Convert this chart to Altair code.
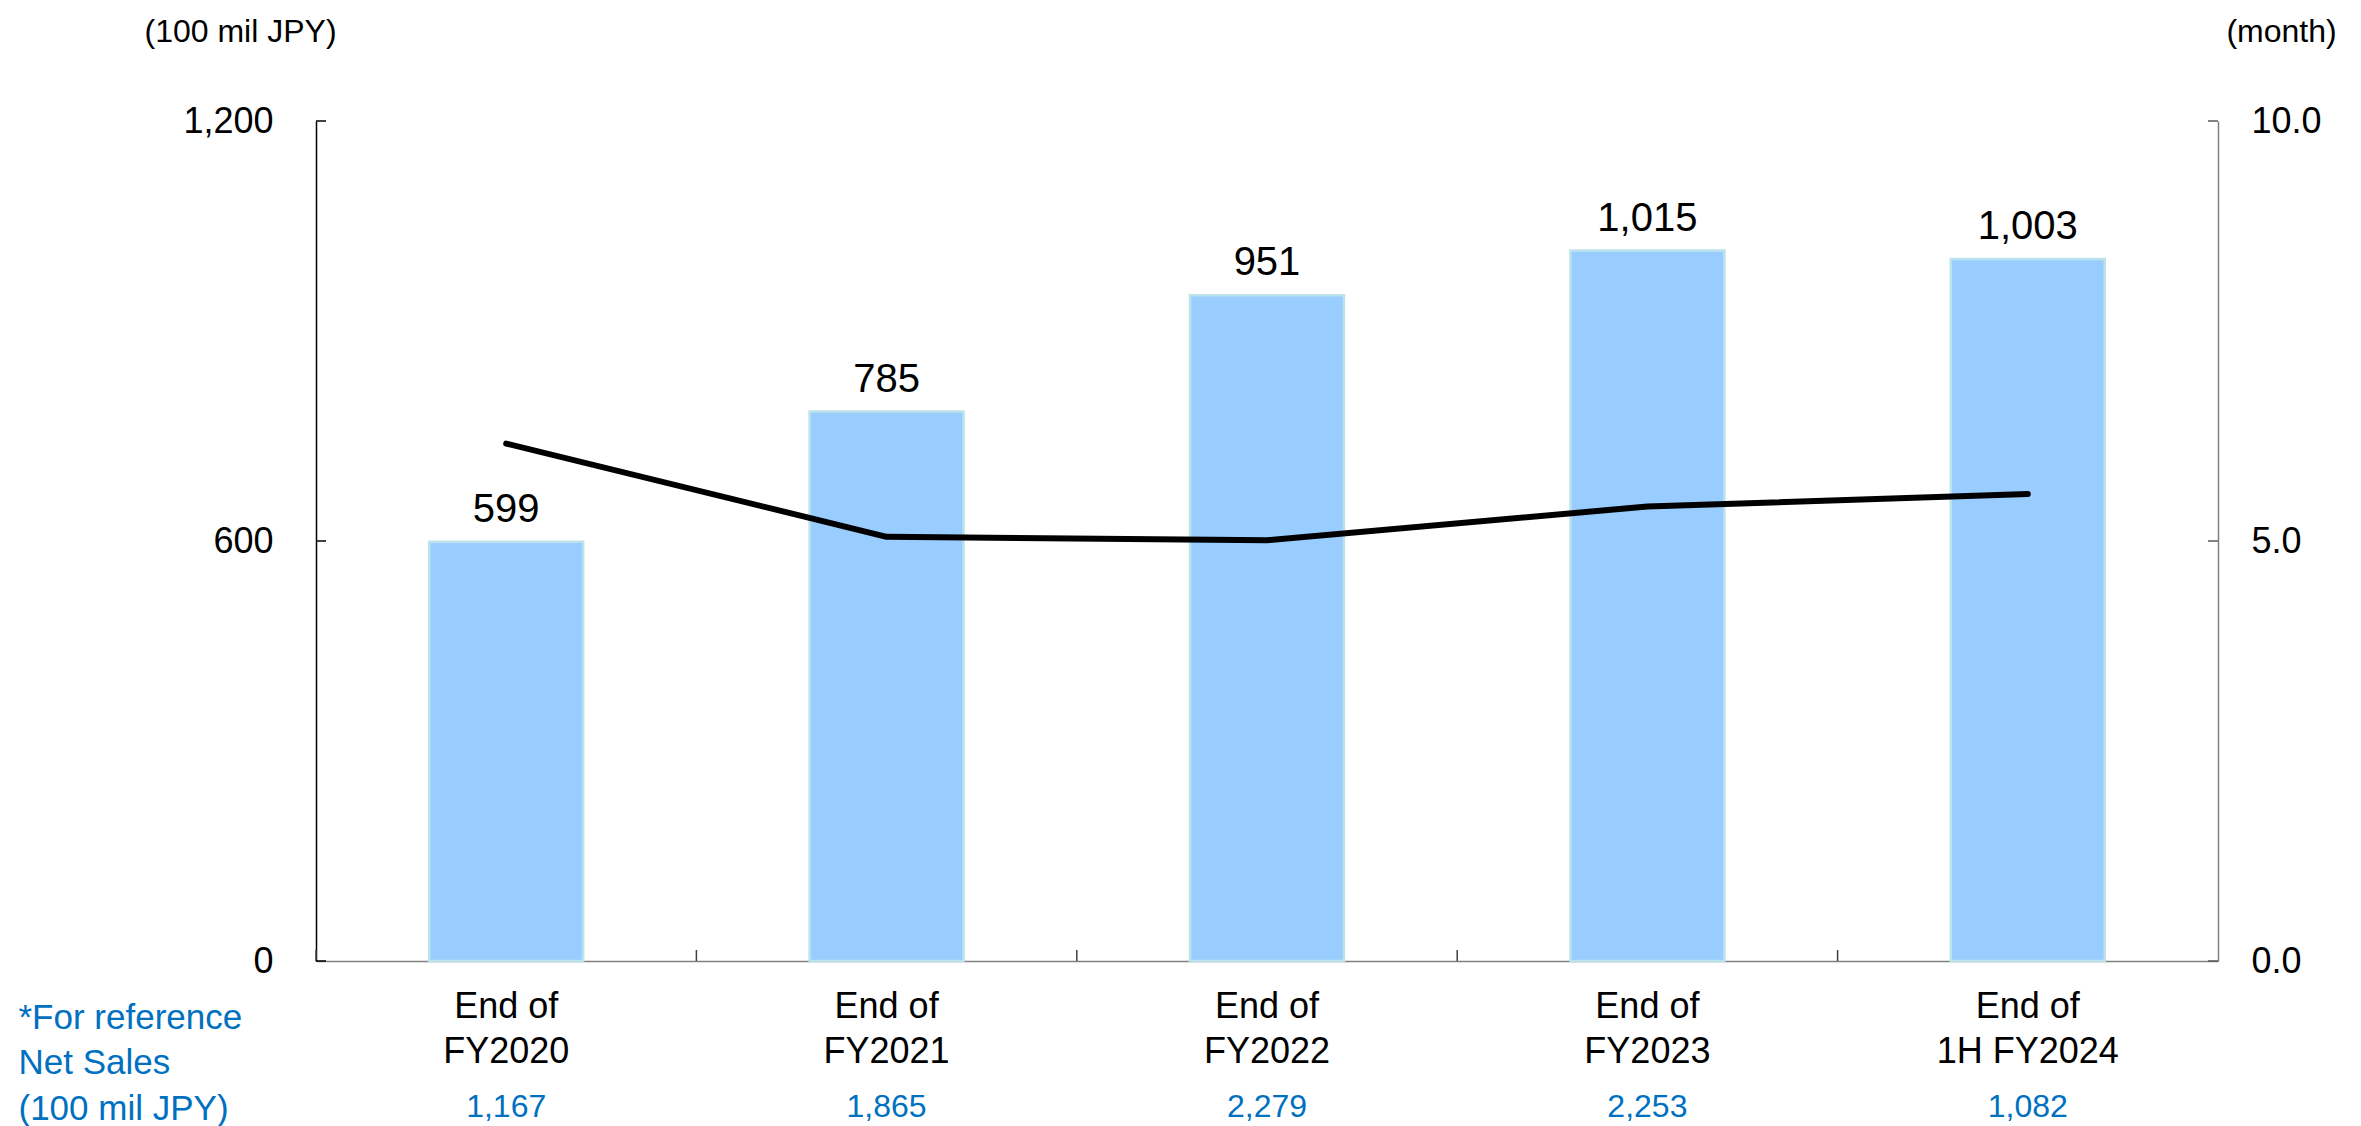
import altair as alt
import pandas as pd

categories = ["End of FY2020", "End of FY2021", "End of FY2022", "End of FY2023", "End of 1H FY2024"]
label_line1 = ["End of", "End of", "End of", "End of", "End of"]
label_line2 = ["FY2020", "FY2021", "FY2022", "FY2023", "1H FY2024"]
inventory = [599, 785, 951, 1015, 1003]
months = [6.16, 5.05, 5.01, 5.41, 5.56]
net_sales = [1167, 1865, 2279, 2253, 1082]
left_ticks = [0, 600, 1200]
right_ticks = [0.0, 5.0, 10.0]

df = pd.DataFrame({"Category": categories, "Line1": label_line1, "Line2": label_line2,
                   "Inventory": inventory, "Months": months, "NetSales": net_sales})
lt = pd.DataFrame({"v": left_ticks})
rt = pd.DataFrame({"v": right_ticks})

W, H = 1902, 840
FONT = "Liberation Sans"
BLUE = "#0070C0"

xscale = alt.Scale(paddingInner=0, paddingOuter=0)
yl_scale = alt.Scale(domain=[0, 1200], nice=False)
yr_scale = alt.Scale(domain=[0, 10], nice=False)

x_main = alt.X(
    "Category:N", sort=categories, scale=xscale,
    axis=alt.Axis(
        labels=False, ticks=False, tickSize=0, domainColor="#808080", domainWidth=1.5,
        title=["*For reference", "Net Sales", "(100 mil JPY)"], titleColor=BLUE,
        titleFont=FONT, titleFontSize=35, titleFontWeight="normal",
        titleAlign="left", titleBaseline="top", titleX=-298, titleY=39,
        titleLineHeight=45.5,
    ),
)
x_plain = alt.X("Category:N", sort=categories, scale=xscale)

bars = alt.Chart(df).mark_bar(size=154, color="#99CCFF", stroke="#BDE3EA", strokeWidth=2.5).encode(
    x=x_main,
    y=alt.Y("Inventory:Q", scale=yl_scale, axis=alt.Axis(
        orient="left", values=left_ticks, labelExpr="format(datum.value, ',')",
        labelFontSize=36, labelFont=FONT,
        labelColor="black", labelPadding=43, ticks=False, tickSize=0,
        domainColor="black", domainWidth=1.5, grid=False,
        title="(100 mil JPY)", titleAngle=0, titleFont=FONT, titleFontSize=32,
        titleFontWeight="normal", titleColor="black", titleAlign="center",
        titleBaseline="alphabetic", titleX=-76, titleY=-80,
    )),
)

bar_labels = alt.Chart(df).mark_text(dy=-20, baseline="alphabetic", fontSize=40, font=FONT, color="black").encode(
    x=x_plain,
    y=alt.Y("Inventory:Q", scale=yl_scale),
    text=alt.Text("Inventory:Q", format=","),
)

cat_line1 = alt.Chart(df).mark_text(baseline="top", fontSize=36, font=FONT, color="black").encode(
    x=x_plain, y=alt.value(H + 29), text="Line1:N",
)
cat_line2 = alt.Chart(df).mark_text(baseline="top", fontSize=36, font=FONT, color="black").encode(
    x=x_plain, y=alt.value(H + 74), text="Line2:N",
)

left_tick_marks = alt.Chart(lt).mark_rule(color="black", strokeWidth=1.5).encode(
    y=alt.Y("v:Q", scale=yl_scale),
    x=alt.value(0), x2=alt.value(10),
)

x_tick_marks = alt.Chart(df).mark_rule(color="#404040", strokeWidth=1.5).encode(
    x=alt.X("Category:N", sort=categories, scale=xscale, bandPosition=0),
    y=alt.value(H), y2=alt.value(H - 11),
)

net_sales_text = alt.Chart(df).mark_text(baseline="alphabetic", fontSize=32, font=FONT, color=BLUE).encode(
    x=x_plain,
    y=alt.value(996),
    text=alt.Text("NetSales:Q", format=","),
)

line = alt.Chart(df).mark_line(color="black", strokeWidth=6, strokeCap="round", strokeJoin="round").encode(
    x=x_plain,
    y=alt.Y("Months:Q", scale=yr_scale, axis=alt.Axis(
        orient="right", values=right_ticks, labelExpr="format(datum.value, '.1f')",
        labelFontSize=36, labelFont=FONT,
        labelColor="black", labelPadding=33, ticks=False, tickSize=0,
        domainColor="#808080", domainWidth=1.5, grid=False,
        title="(month)", titleAngle=0, titleFont=FONT, titleFontSize=32,
        titleFontWeight="normal", titleColor="black", titleAlign="center",
        titleBaseline="alphabetic", titleX=63, titleY=-80,
    )),
)

right_tick_marks = alt.Chart(rt).mark_rule(color="#595959", strokeWidth=1.5).encode(
    y=alt.Y("v:Q", scale=yr_scale),
    x=alt.value(W - 10), x2=alt.value(W),
)

left = alt.layer(bars, x_tick_marks, left_tick_marks, cat_line1, cat_line2, net_sales_text, bar_labels)
right = alt.layer(line, right_tick_marks)

chart = alt.layer(left, right).resolve_scale(y="independent").properties(
    width=W, height=H,
    padding={"left": 316, "top": 121, "right": 2361 - 316 - W, "bottom": 1126 - 121 - H},
    autosize=alt.AutoSizeParams(type="none"),
    background="white",
).configure_view(stroke=None)

chart.save("out.html", embed_options={"renderer": "svg", "actions": False})
